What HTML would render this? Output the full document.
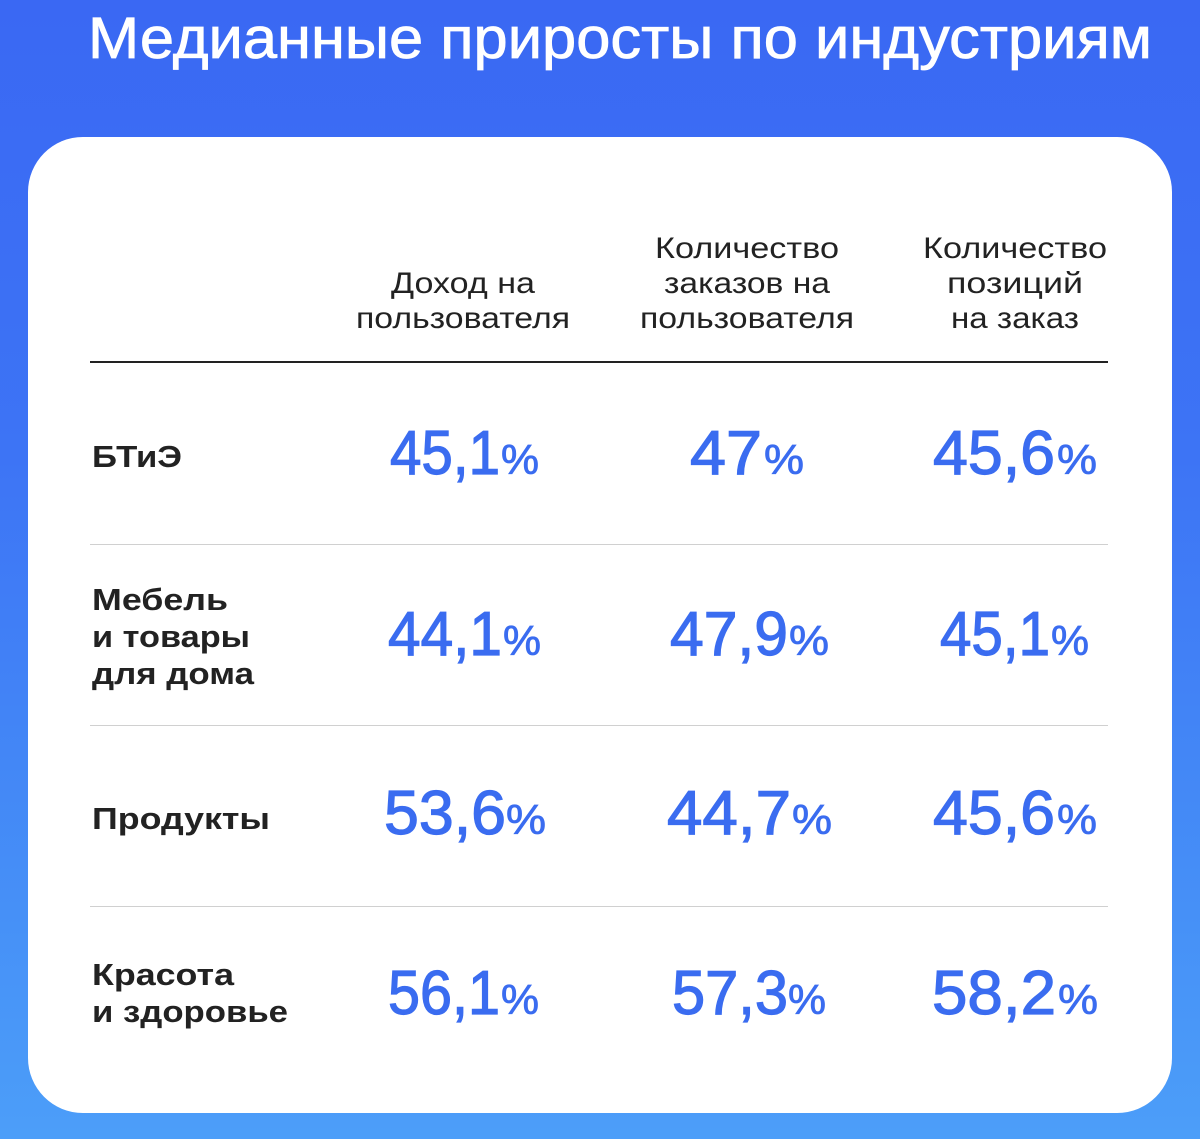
<!DOCTYPE html>
<html><head><meta charset="utf-8"><style>
html,body{margin:0;padding:0;width:1200px;height:1139px;overflow:hidden}
body{background:linear-gradient(180deg,#3a68f3 0%,#3d74f5 40%,#4690f7 80%,#4c9ef9 100%)}
svg{position:absolute;left:0;top:0}
</style></head><body>
<svg width="1200" height="1139" xmlns="http://www.w3.org/2000/svg" font-family="Liberation Sans, sans-serif">
<text x="88" y="58" font-size="58" fill="#fff" stroke="#fff" stroke-width="0.8" textLength="1064" lengthAdjust="spacingAndGlyphs">Медианные приросты по индустриям</text>
<rect x="28" y="137" width="1144" height="976" rx="55" fill="#fff"/>
<g font-size="30" fill="#222" text-anchor="middle">
<text x="463" y="293" textLength="144" lengthAdjust="spacingAndGlyphs">Доход на</text>
<text x="463" y="328" textLength="214" lengthAdjust="spacingAndGlyphs">пользователя</text>
<text x="747" y="258" textLength="184" lengthAdjust="spacingAndGlyphs">Количество</text>
<text x="747" y="293" textLength="166" lengthAdjust="spacingAndGlyphs">заказов на</text>
<text x="747" y="328" textLength="214" lengthAdjust="spacingAndGlyphs">пользователя</text>
<text x="1015" y="258" textLength="184" lengthAdjust="spacingAndGlyphs">Количество</text>
<text x="1015" y="293" textLength="136" lengthAdjust="spacingAndGlyphs">позиций</text>
<text x="1015" y="328" textLength="128" lengthAdjust="spacingAndGlyphs">на заказ</text>
</g>
<rect x="90" y="361" width="1018" height="2" fill="#222"/>
<g fill="#d0d0d0"><rect x="90" y="544" width="1018" height="1"/><rect x="90" y="725" width="1018" height="1"/><rect x="90" y="906" width="1018" height="1"/></g>
<g font-size="31" fill="#222" font-weight="bold">
<text x="92" y="467" textLength="90" lengthAdjust="spacingAndGlyphs">БТиЭ</text>
<text x="92" y="610" textLength="136" lengthAdjust="spacingAndGlyphs">Мебель</text>
<text x="92" y="647" textLength="158" lengthAdjust="spacingAndGlyphs">и товары</text>
<text x="92" y="684" textLength="162" lengthAdjust="spacingAndGlyphs">для дома</text>
<text x="92" y="829" textLength="178" lengthAdjust="spacingAndGlyphs">Продукты</text>
<text x="92" y="985" textLength="142" lengthAdjust="spacingAndGlyphs">Красота</text>
<text x="92" y="1022" textLength="196" lengthAdjust="spacingAndGlyphs">и здоровье</text>
</g>
<g fill="#3a6cf0" stroke="#3a6cf0">
<g font-size="62" stroke-width="1.2">
<text x="390" y="474" textLength="110" lengthAdjust="spacingAndGlyphs">45,1</text>
<text x="690" y="474" textLength="72" lengthAdjust="spacingAndGlyphs">47</text>
<text x="933" y="474" textLength="122" lengthAdjust="spacingAndGlyphs">45,6</text>
<text x="388" y="655" textLength="114" lengthAdjust="spacingAndGlyphs">44,1</text>
<text x="670" y="655" textLength="118" lengthAdjust="spacingAndGlyphs">47,9</text>
<text x="940" y="655" textLength="110" lengthAdjust="spacingAndGlyphs">45,1</text>
<text x="384" y="834" textLength="122" lengthAdjust="spacingAndGlyphs">53,6</text>
<text x="667" y="834" textLength="124" lengthAdjust="spacingAndGlyphs">44,7</text>
<text x="933" y="834" textLength="122" lengthAdjust="spacingAndGlyphs">45,6</text>
<text x="388" y="1014" textLength="112" lengthAdjust="spacingAndGlyphs">56,1</text>
<text x="672" y="1014" textLength="116" lengthAdjust="spacingAndGlyphs">57,3</text>
<text x="932" y="1014" textLength="124" lengthAdjust="spacingAndGlyphs">58,2</text>
</g>
<g font-size="42" stroke-width="0.8">
<text x="501" y="474" textLength="38" lengthAdjust="spacingAndGlyphs">%</text>
<text x="764" y="474" textLength="40" lengthAdjust="spacingAndGlyphs">%</text>
<text x="1057" y="474" textLength="40" lengthAdjust="spacingAndGlyphs">%</text>
<text x="503" y="655" textLength="38" lengthAdjust="spacingAndGlyphs">%</text>
<text x="789" y="655" textLength="40" lengthAdjust="spacingAndGlyphs">%</text>
<text x="1051" y="655" textLength="38" lengthAdjust="spacingAndGlyphs">%</text>
<text x="506" y="834" textLength="40" lengthAdjust="spacingAndGlyphs">%</text>
<text x="792" y="834" textLength="40" lengthAdjust="spacingAndGlyphs">%</text>
<text x="1057" y="834" textLength="40" lengthAdjust="spacingAndGlyphs">%</text>
<text x="501" y="1014" textLength="38" lengthAdjust="spacingAndGlyphs">%</text>
<text x="788" y="1014" textLength="38" lengthAdjust="spacingAndGlyphs">%</text>
<text x="1058" y="1014" textLength="40" lengthAdjust="spacingAndGlyphs">%</text>
</g>
</g>
</svg>
</body></html>
